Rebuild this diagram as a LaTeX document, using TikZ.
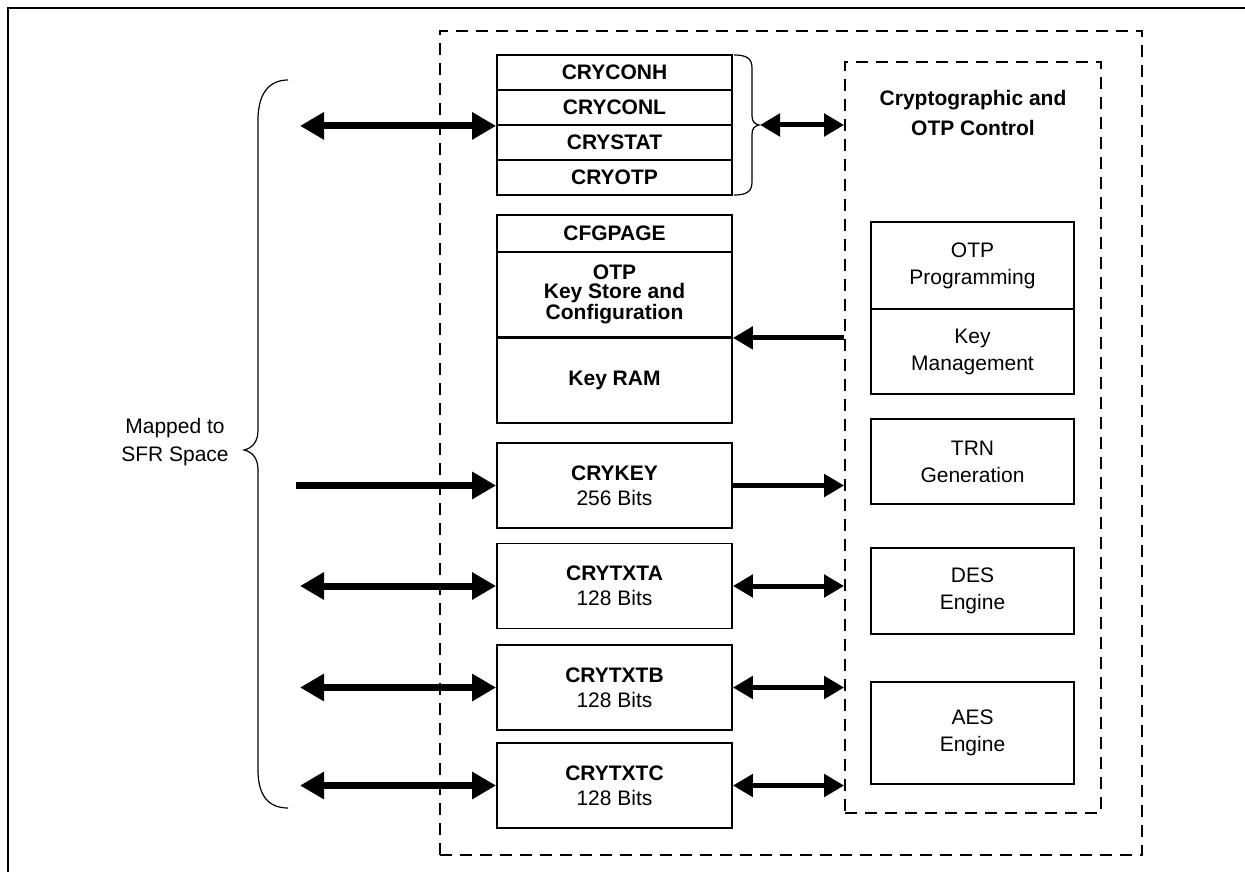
\documentclass[tikz,border=0pt]{standalone}
\usepackage{fontspec}
\setmainfont{Liberation Sans}
\usetikzlibrary{arrows.meta,positioning}
\tikzset{
  reg/.style={draw,line width=1.8pt,minimum width=235pt,inner sep=0pt,align=center,font=\fontsize{21}{25}\selectfont\bfseries},
  regbits/.style={reg,minimum height=85pt,font=\fontsize{21}{25}\selectfont},
  unit/.style={draw,line width=1.8pt,minimum width=203pt,inner sep=0pt,align=center,font=\fontsize{21}{27}\selectfont},
  dashbox/.style={draw,line width=1.8pt,dash pattern=on 12pt off 8pt,inner sep=0pt},
  title/.style={align=center,font=\fontsize{21}{30}\selectfont\bfseries},
  bus/.style={line width=7pt,-{Triangle[length=24pt,width=26pt]}},
  busboth/.style={line width=7pt,{Triangle[length=24pt,width=26pt]}-{Triangle[length=24pt,width=26pt]}},
  link/.style={line width=5pt,-{Triangle[length=20pt,width=22pt]}},
  linkboth/.style={line width=5pt,{Triangle[length=20pt,width=22pt]}-{Triangle[length=20pt,width=22pt]}},
}
\begin{document}
\begin{tikzpicture}[x=1pt,y=-1pt]
\useasboundingbox (0,0) rectangle (1245,872);
%frame
\draw[line width=2pt] (8,872) -- (8,8) -- (1245,8);
%dashed areas
\node[dashbox,minimum width=702pt,minimum height=824pt] (crypto) at (791,443) {};
\node[dashbox,minimum width=256pt,minimum height=751pt] (ctrl) at (973,437.5) {};
\node[title] (ctrltitle) at (973,113) {Cryptographic and\\OTP Control};
%registers
\foreach \n/\t [count=\i] in {conh/CRYCONH,conl/CRYCONL,stat/CRYSTAT,otp/CRYOTP}{
\node[reg,minimum height=35pt] (\n) at (614.5,37.5+35*\i) {\t};
}
\node[reg,minimum height=37pt] (cfg) at (614.5,233.5) {CFGPAGE};
\node[reg,minimum height=85pt,font=\fontsize{21}{19}\selectfont\bfseries] (otpstore) at (614.5,294.5) {OTP\\Key Store and\\Configuration};
\node[reg,minimum height=86pt] (keyram) at (614.5,380) {Key RAM};
\draw[line width=3pt] (otpstore.south west) -- (otpstore.south east);
\foreach \n/\t/\b/\y in {crykey/CRYKEY/256/485.5,crytxta/CRYTXTA/128/586,crytxtb/CRYTXTB/128/687.5,crytxtc/CRYTXTC/128/785.5}{
\node[regbits] (\n) at (614.5,\y) {\textbf{\t}\\\b{} Bits};
}
%engines
\node[unit,minimum height=87pt] (otpprog) at (972.5,265.5) {OTP\\Programming};
\node[unit,minimum height=85pt] (keymgmt) at (972.5,351.5) {Key\\Management};
\node[unit,minimum height=85pt] (trn) at (972.5,461.5) {TRN\\Generation};
\node[unit,minimum height=86pt] (des) at (972.5,591) {DES\\Engine};
\node[unit,minimum height=102pt] (aes) at (972.5,733) {AES\\Engine};
%braces
\draw[line width=1.2pt] (288,80) .. controls (268,80) and (258,95) .. (258,120) -- (258,430)
  .. controls (258,441) and (253,448) .. (244,450) .. controls (253,452) and (258,459) .. (258,470)
  -- (258,770) .. controls (258,795) and (268,808) .. (288,808);
\node[align=center,font=\fontsize{21}{28}\selectfont] (sfr) at (175,442) {Mapped to\\SFR Space};
\draw[line width=1.2pt] (734,55) .. controls (746,55) and (752,58) .. (752,68) -- (752,116)
  .. controls (752,122) and (755,124) .. (759,125) .. controls (755,126) and (752,128) .. (752,134)
  -- (752,182) .. controls (752,192) and (746,195) .. (734,195);
\coordinate (bracetip) at (760,125);
%buses
\coordinate (sfrleft) at (300,0);
\coordinate (sfrkey) at (296,0);
\draw[busboth] (sfrleft |- conl.south west) -- (conl.south west);
\draw[bus] (sfrkey |- crykey.west) -- (crykey.west);
\draw[linkboth] (bracetip) -- (ctrl.west |- bracetip);
\draw[link] (ctrl.west |- otpstore.south east) -- (otpstore.south east);
\draw[link] (crykey.east) -- (ctrl.west |- crykey.east);
\foreach \n in {crytxta,crytxtb,crytxtc}{
\draw[busboth] (sfrleft |- \n.west) -- (\n.west);
\draw[linkboth] (\n.east) -- (ctrl.west |- \n.east);
}
\end{tikzpicture}
\end{document}
